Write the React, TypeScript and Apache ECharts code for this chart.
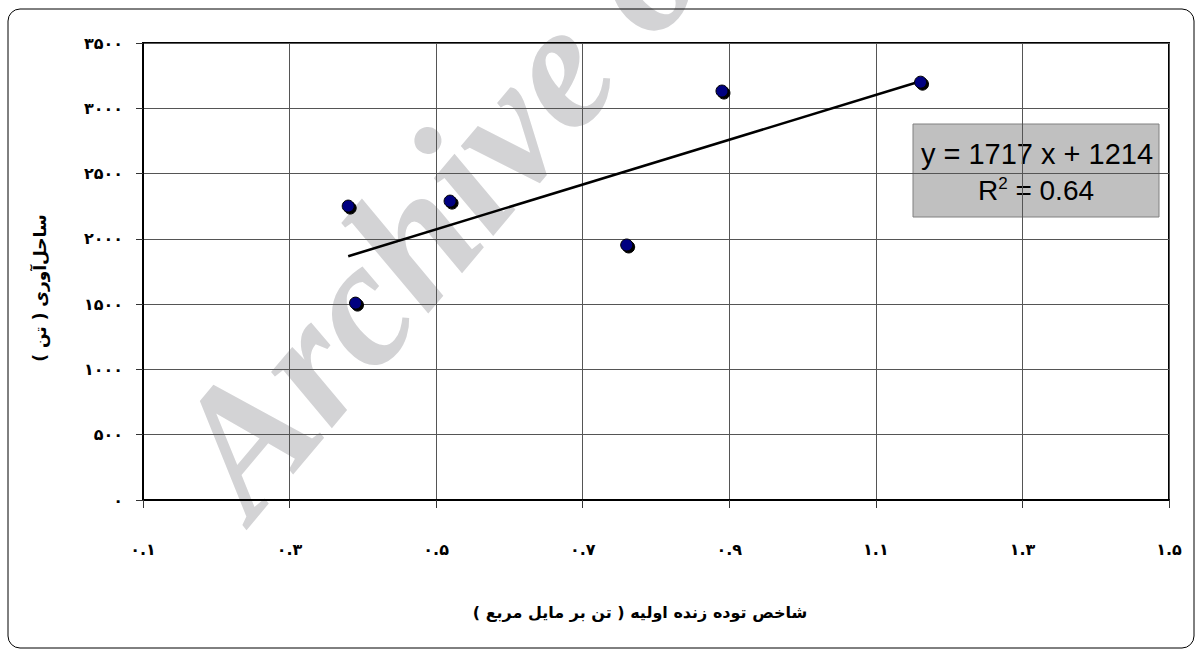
import React, { useEffect, useRef } from "react";
import * as echarts from "echarts";

// Data
const biomassIndex = [0.38, 0.39, 0.519, 0.76, 0.89, 1.161];
const landings = [2251, 1508, 2289, 1953, 3132, 3200];

// Trend line (as printed on the chart)
const trendSlope = 1717;
const trendIntercept = 1214;
const trendLabelLines = ["y = 1717 x + 1214", "R", "2", " = 0.64"];

// Axes
const xMin = 0.1;
const xMax = 1.5;
const xStep = 0.2;
const yMin = 0;
const yMax = 3500;
const yStep = 500;

const xTitle = "شاخص توده زنده اولیه ( تن بر مایل مربع )";
const yTitle = "ساحل‌آوری ( تن )";
const watermark = "Archive of SID";

const faDigits = "۰۱۲۳۴۵۶۷۸۹";
const toFa = (s: string) => s.replace(/\d/g, (d) => faDigits[+d]);

const FA_FONT = "'DejaVu Sans', 'Noto Sans', sans-serif";
const EN_FONT = "'Liberation Sans', Arial, sans-serif";

export default function App() {
  const ref = useRef<HTMLDivElement>(null);
  useEffect(() => {
    if (!ref.current) return;
    const chart = echarts.init(ref.current, undefined, { renderer: "svg" });
    const xs = biomassIndex;
    const tMin = Math.min(...xs);
    const tMax = Math.max(...xs);
    const trend = [
      [tMin, trendSlope * tMin + trendIntercept],
      [tMax, trendSlope * tMax + trendIntercept],
    ];
    chart.setOption({
      animation: false,
      backgroundColor: "#ffffff",
      grid: {
        left: 143,
        right: 26,
        top: 43,
        bottom: 155,
        show: true,
        borderColor: "#000",
        borderWidth: 2,
        backgroundColor: "transparent",
      },
      xAxis: {
        type: "value",
        min: xMin,
        max: xMax,
        interval: xStep,
        axisLine: { show: true, onZero: false, lineStyle: { color: "#000", width: 2 } },
        axisTick: { show: true, length: 8, lineStyle: { color: "#333", width: 1 } },
        axisLabel: {
          margin: 41,
          fontFamily: FA_FONT,
          fontWeight: "bold",
          fontSize: 16,
          color: "#000",
          formatter: (v: number) => toFa(v.toFixed(1)),
        },
        splitLine: { show: true, lineStyle: { color: "#555", width: 1 } },
      },
      yAxis: {
        type: "value",
        min: yMin,
        max: yMax,
        interval: yStep,
        axisLine: { show: true, onZero: false, lineStyle: { color: "#000", width: 2 } },
        axisTick: { show: true, length: 7, lineStyle: { color: "#333", width: 1 } },
        axisLabel: {
          margin: 20,
          fontFamily: FA_FONT,
          fontWeight: "bold",
          fontSize: 16,
          color: "#000",
          formatter: (v: number) => toFa(String(Math.round(v))),
        },
        splitLine: { show: true, lineStyle: { color: "#555", width: 1 } },
      },
      series: [
        {
          type: "line",
          data: trend,
          symbol: "none",
          lineStyle: { color: "#000", width: 2.5 },
          z: 3,
          silent: true,
        },
        {
          type: "scatter",
          data: xs.map((x, i) => [x, landings[i]]),
          symbol: "circle",
          symbolSize: 12,
          itemStyle: {
            color: "#000080",
            borderColor: "#000",
            borderWidth: 1,
            shadowColor: "#000",
            shadowBlur: 1,
            shadowOffsetX: 2,
            shadowOffsetY: 2,
            opacity: 1,
          },
          z: 5,
        },
      ],
      graphic: [
        {
          type: "text",
          x: 275,
          y: 542,
          rotation: 0.873,
          z: -10,
          silent: true,
          style: {
            text: watermark,
            fill: "#d3d3d5",
            font: "italic bold 180px 'Liberation Serif', 'DejaVu Serif', serif",
            textAlign: "left",
            textVerticalAlign: "bottom",
          },
        },
        {
          type: "rect",
          z: 1,
          silent: true,
          shape: { x: 8, y: 9, width: 1186, height: 639, r: 12 },
          style: { fill: "none", stroke: "#000", lineWidth: 1 },
        },
        {
          type: "group",
          z: 10,
          children: [
            {
              type: "rect",
              shape: { x: 913, y: 124, width: 246, height: 93 },
              style: { fill: "#c0c0c0", stroke: "#808080", lineWidth: 1 },
            },
            {
              type: "text",
              x: 1037,
              y: 154,
              style: {
                text: trendLabelLines[0],
                fill: "#000",
                font: `29px ${EN_FONT}`,
                textAlign: "center",
                textVerticalAlign: "middle",
              },
            },
            {
              type: "text",
              x: 1036,
              y: 190,
              style: {
                text: `{a|${trendLabelLines[1]}}{s|${trendLabelLines[2]}}{a|${trendLabelLines[3]}}`,
                textAlign: "center",
                textVerticalAlign: "middle",
                rich: {
                  a: { fontSize: 28, fontFamily: EN_FONT, fill: "#000", color: "#000" },
                  s: { fontSize: 17, fontFamily: EN_FONT, fill: "#000", color: "#000", verticalAlign: "top", padding: [0, 0, 14, 0] },
                },
              },
            },
          ],
        },
        {
          type: "text",
          x: 640,
          y: 612,
          style: {
            text: xTitle,
            fill: "#000",
            font: `bold 16px ${FA_FONT}`,
            textAlign: "center",
            textVerticalAlign: "middle",
          },
        },
        {
          type: "text",
          x: 40,
          y: 288,
          rotation: Math.PI / 2,
          style: {
            text: yTitle,
            fill: "#000",
            font: `bold 17px ${FA_FONT}`,
            textAlign: "center",
            textVerticalAlign: "middle",
          },
        },
      ],
    });
    return () => chart.dispose();
  }, []);
  return (
    <div
      ref={ref}
      style={{ position: "absolute", left: 0, top: 0, width: 1195, height: 655 }}
    />
  );
}
